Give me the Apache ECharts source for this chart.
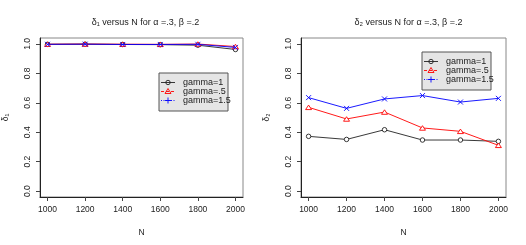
<!DOCTYPE html>
<html><head><meta charset="utf-8">
<script src="https://cdn.jsdelivr.net/npm/echarts@6/dist/echarts.min.js"></script>
<style>html,body{margin:0;padding:0;background:#fff}#c{width:526px;height:245px}</style>
</head><body><div id="c"></div>
<script>
const Ns = [1000, 1200, 1400, 1600, 1800, 2000];
const xTicks = [1000, 1200, 1400, 1600, 1800, 2000];
const yTicks = [0, 0.2, 0.4, 0.6, 0.8, 1.0];
const legendNames = ['gamma=1', 'gamma=.5', 'gamma=1.5'];
// delta1 panel
const d1_g1  = [0.997, 0.998, 0.996, 0.995, 0.991, 0.962];
const d1_g05 = [0.998, 0.999, 0.998, 0.997, 0.999, 0.982];
const d1_g15 = [0.997, 0.998, 0.996, 0.996, 0.997, 0.976];
// delta2 panel
const d2_g1  = [0.372, 0.351, 0.417, 0.347, 0.347, 0.338];
const d2_g05 = [0.569, 0.490, 0.537, 0.429, 0.406, 0.311];
const d2_g15 = [0.635, 0.562, 0.626, 0.649, 0.605, 0.630];

const titles = ['δ₁ versus N for α =.3, β =.2', 'δ₂ versus N for α =.3, β =.2'];
const yNames = ['δ₁', 'δ₂'];

const colors = ['#222', '#ff0000', '#0000ff'];
const circlePath = 'path://M5,0A5,5 0 1,1 5,10A5,5 0 1,1 5,0Z';
const triPath = 'path://M5,0L10,8.66L0,8.66Z';
const xPath = 'path://M0,0L10,10M10,0L0,10';
const plotSymbols = [circlePath, triPath, xPath];
const plotSizes = [[4.5, 4.5], [6, 5.2], [5, 5]];
const plotFills = ['#fff', '#fff', 'none'];

const grids = [
  {left: 38, top: 38, width: 205, height: 159},
  {left: 301, top: 38, width: 205, height: 159}
];
const txt = '#222';
const fontFam = 'Liberation Sans, Arial, sans-serif';

function xAxis(i) {
  return {
    type: 'value', gridIndex: i, min: 960, max: 2040,
    name: 'N', nameLocation: 'middle', nameGap: 31,
    nameTextStyle: {color: txt, fontSize: 8.5, fontFamily: fontFam},
    axisLine: {show: true, onZero: false, lineStyle: {color: '#222', width: 1}},
    axisTick: {show: true, inside: false, length: 4, customValues: xTicks, lineStyle: {color: '#444'}},
    axisLabel: {customValues: xTicks, color: txt, fontSize: 8.5, margin: 8, fontFamily: fontFam,
      formatter: v => String(v)},
    splitLine: {show: false}
  };
}
function yAxis(i) {
  return {
    type: 'value', gridIndex: i, min: -0.04, max: 1.04,
    name: yNames[i], nameLocation: 'middle', nameGap: 30, nameRotate: 90,
    nameTextStyle: {color: txt, fontSize: 8.5, fontFamily: fontFam},
    axisLine: {show: true, onZero: false, lineStyle: {color: '#222', width: 1}},
    axisTick: {show: true, length: 4, customValues: yTicks, lineStyle: {color: '#444'}},
    axisLabel: {customValues: yTicks, rotate: 90, color: txt, fontSize: 8.5, margin: 8, fontFamily: fontFam,
      formatter: v => v.toFixed(1)},
    splitLine: {show: false}
  };
}
function mk(i, k, vals) {
  return {
    type: 'line', xAxisIndex: i, yAxisIndex: i,
    data: Ns.map((n, j) => [n, vals[j]]),
    symbol: plotSymbols[k], symbolSize: plotSizes[k], symbolKeepAspect: true,
    showSymbol: true, showAllSymbol: true,
    lineStyle: {color: colors[k], width: 0.9},
    itemStyle: {color: plotFills[k], borderColor: colors[k], borderWidth: 0.9},
    emphasis: {disabled: true}, animation: false, z: 3 + k
  };
}

function legendGraphic(x0, y0) {
  const els = [];
  els.push({type: 'rect', shape: {x: x0, y: y0, width: 69, height: 38},
    style: {fill: '#e5e5e5', stroke: '#555', lineWidth: 1}, z: 10});
  const dashes = [null, [3, 2], [1, 1.5]];
  for (let k = 0; k < 3; k++) {
    const cy = y0 + 9.5 + k * 9;
    els.push({type: 'line', shape: {x1: x0 + 2, y1: cy, x2: x0 + 16, y2: cy},
      style: {stroke: colors[k], lineWidth: 0.9, lineDash: dashes[k]}, z: 11});
    let sym;
    if (k === 0) sym = {type: 'circle', shape: {cx: x0 + 9, cy: cy, r: 2.2}, style: {fill: 'none', stroke: colors[k], lineWidth: 0.9}, z: 12};
    else if (k === 1) sym = {type: 'polygon', shape: {points: [[x0 + 9, cy - 3], [x0 + 12, cy + 2], [x0 + 6, cy + 2]]}, style: {fill: 'none', stroke: colors[k], lineWidth: 0.9}, z: 12};
    else sym = {type: 'polyline', shape: {points: [[x0 + 9, cy - 3], [x0 + 9, cy + 3]]}, style: {stroke: colors[k], lineWidth: 0.9}, z: 12};
    els.push(sym);
    if (k === 2) els.push({type: 'line', shape: {x1: x0 + 6, y1: cy, x2: x0 + 12, y2: cy}, style: {stroke: colors[k], lineWidth: 0.9}, z: 12});
    els.push({type: 'text', x: x0 + 24, y: cy, style: {text: legendNames[k], fill: txt, fontSize: 9, fontFamily: fontFam, verticalAlign: 'middle'}, z: 12});
  }
  return els;
}

const chart = echarts.init(document.getElementById('c'), null, {renderer: 'canvas'});
chart.setOption({
  animation: false,
  backgroundColor: '#fff',
  title: [0, 1].map(i => ({
    text: titles[i], left: grids[i].left + grids[i].width / 2, textAlign: 'center', top: 13,
    textStyle: {fontSize: 9, fontWeight: 'normal', color: txt, fontFamily: fontFam}
  })),
  grid: grids.map(g => Object.assign({show: true, borderColor: '#888', borderWidth: 1, backgroundColor: 'transparent'}, g)),
  xAxis: [xAxis(0), xAxis(1)],
  yAxis: [yAxis(0), yAxis(1)],
  series: [
    mk(0, 0, d1_g1), mk(0, 1, d1_g05), mk(0, 2, d1_g15),
    mk(1, 0, d2_g1), mk(1, 1, d2_g05), mk(1, 2, d2_g15)
  ],
  graphic: legendGraphic(159, 73).concat(legendGraphic(422, 52))
});
</script></body></html>
